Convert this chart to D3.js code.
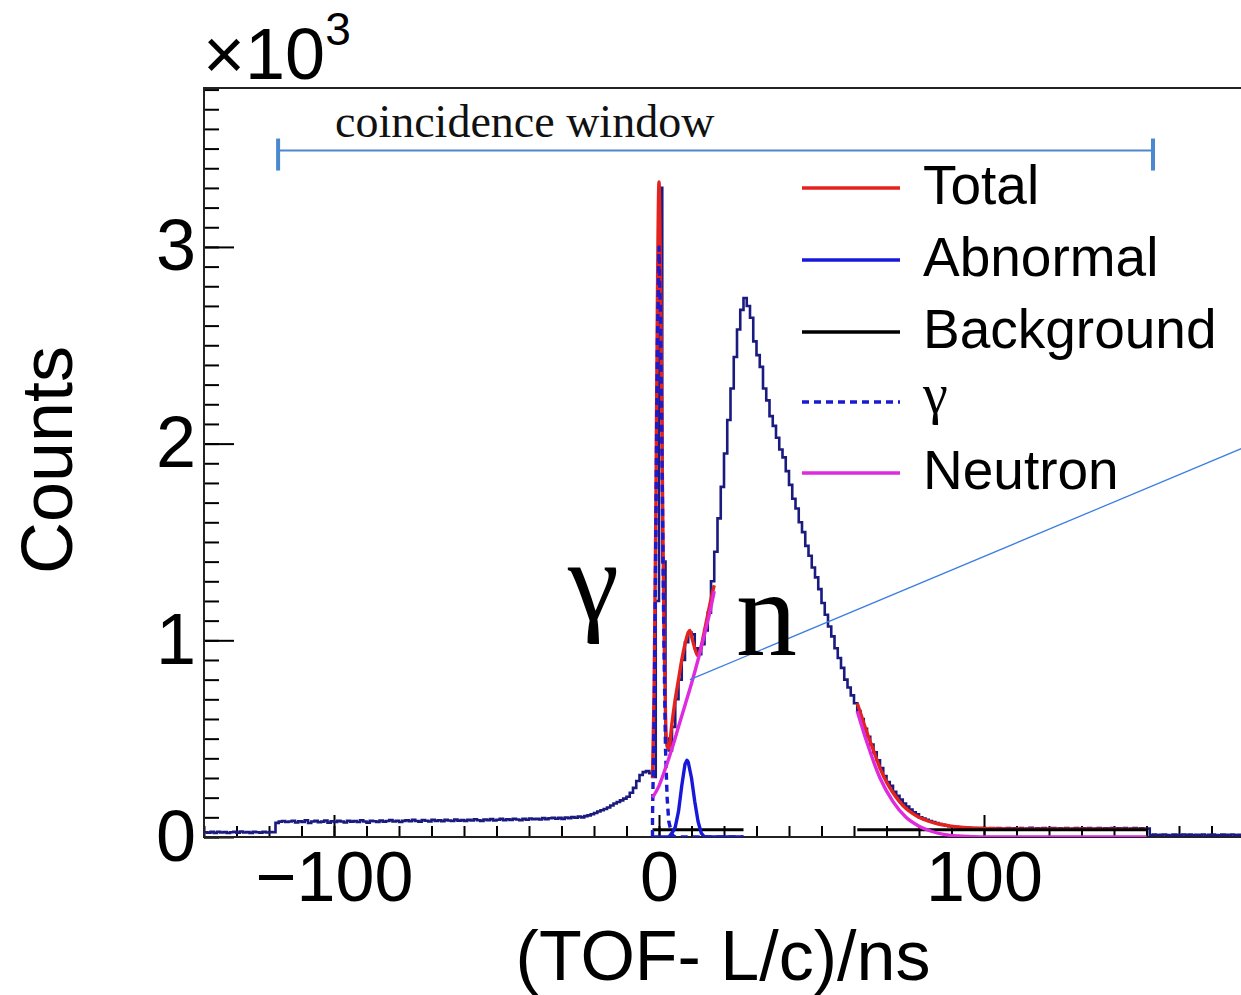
<!DOCTYPE html>
<html>
<head>
<meta charset="utf-8">
<script src="https://cdn.jsdelivr.net/npm/d3@7"></script>
<style>
  html, body { margin: 0; padding: 0; background: #ffffff; }
  svg { display: block; }
</style>
</head>
<body>
<svg id="chart" width="1241" height="995"></svg>
<script>
// ---------------- DATA (units of 10^3 counts) ----------------
const binStart = -140;   // ns, left edge of first bin
const binWidth = 1;      // ns
const histCounts = [
  // -140 .. -119
  0.024,0.022,0.026,0.021,0.027,0.023,0.025,0.020,0.024,0.026,0.022,0.028,0.023,0.025,0.021,0.026,0.024,0.022,0.027,0.023,0.025,0.024,
  // -118 .. -99
  0.072,0.078,0.081,0.076,0.079,0.083,0.074,0.080,0.077,0.085,0.071,0.079,0.082,0.075,0.078,0.084,0.073,0.080,0.076,0.082,
  // -98 .. -79
  0.079,0.074,0.083,0.078,0.081,0.076,0.085,0.079,0.073,0.082,0.080,0.077,0.084,0.078,0.081,0.086,0.079,0.083,0.076,0.082,
  // -78 .. -59
  0.085,0.080,0.087,0.081,0.078,0.086,0.083,0.079,0.088,0.082,0.085,0.080,0.087,0.084,0.081,0.089,0.083,0.086,0.082,0.088,
  // -58 .. -39
  0.084,0.090,0.085,0.082,0.089,0.086,0.091,0.084,0.088,0.092,0.086,0.090,0.087,0.093,0.089,0.085,0.092,0.088,0.094,0.090,
  // -38 .. -19
  0.093,0.089,0.096,0.091,0.095,0.098,0.093,0.097,0.092,0.099,0.096,0.101,0.098,0.104,0.100,0.106,0.110,0.116,0.122,0.130,
  // -18 .. -1
  0.136,0.142,0.150,0.160,0.170,0.178,0.186,0.195,0.205,0.225,0.250,0.285,0.315,0.330,0.335,0.325,0.305,1.20,
  // 0 .. 19
  3.30,1.40,0.50,0.44,0.56,0.70,0.80,0.90,0.99,1.04,1.03,0.96,0.93,0.98,1.05,1.14,1.30,1.45,1.62,1.78,
  // 20 .. 39
  1.95,2.12,2.28,2.44,2.58,2.68,2.74,2.70,2.64,2.52,2.45,2.39,2.28,2.22,2.14,2.09,2.03,1.97,1.93,1.86,
  // 40 .. 59
  1.79,1.72,1.67,1.60,1.55,1.48,1.43,1.37,1.32,1.26,1.19,1.13,1.07,1.02,0.96,0.91,0.86,0.80,0.76,0.72,
  // 60 .. 79
  0.68,0.64,0.60,0.55,0.51,0.47,0.43,0.39,0.35,0.31,0.28,0.26,0.23,0.21,0.19,0.17,0.155,0.14,0.125,0.115,
  // 80 .. 99
  0.100,0.094,0.088,0.081,0.076,0.071,0.066,0.062,0.058,0.055,0.052,0.050,0.048,0.049,0.046,0.047,0.044,0.046,0.043,0.045,
  // 100 .. 119
  0.044,0.042,0.046,0.041,0.045,0.043,0.040,0.046,0.042,0.044,0.039,0.045,0.041,0.043,0.047,0.040,0.044,0.042,0.045,0.041,
  // 120 .. 139
  0.043,0.046,0.040,0.044,0.042,0.045,0.039,0.043,0.046,0.041,0.044,0.042,0.045,0.040,0.043,0.046,0.041,0.044,0.042,0.045,
  // 140 .. 150
  0.041,0.044,0.042,0.046,0.040,0.043,0.045,0.041,0.044,0.042,0.043,
  // 151 .. 179
  0.010,0.012,0.009,0.011,0.013,0.010,0.008,0.012,0.011,0.009,0.013,0.010,0.012,0.009,0.011,0.010,0.013,0.008,0.011,0.012,0.010,0.009,0.012,0.011,0.010,0.013,0.009,0.011,0.010
];

// Fit components, window 1 (gamma region)
const totalX1   = [-2, -1.5, -1, -0.5, 0, 0.5, 1, 1.5, 2, 2.5, 3, 4, 5, 6, 7, 8, 9, 9.5, 10, 11, 12, 13, 14, 15, 16, 17];
const totalY1   = [0.30, 0.75, 1.60, 2.70, 3.33, 2.80, 1.90, 1.10, 0.62, 0.46, 0.45, 0.58, 0.70, 0.80, 0.90, 0.98, 1.04, 1.05, 1.02, 0.96, 0.92, 0.97, 1.05, 1.13, 1.21, 1.28];
const neutronX1 = [-2, 0, 2, 4, 6, 8, 10, 12, 14, 16, 17];
const neutronY1 = [0.20, 0.26, 0.35, 0.45, 0.56, 0.67, 0.78, 0.90, 1.03, 1.17, 1.25];
const gammaX    = [-2, -2, -1.5, -1, -0.5, 0, 0.5, 1, 1.5, 2, 2.5, 3, 4, 5, 26];
const gammaY    = [0.00, 0.10, 0.60, 1.50, 2.50, 3.00, 2.60, 1.80, 1.00, 0.45, 0.20, 0.08, 0.01, 0.00, 0.00];
const abnormalX = [-2, 3, 4, 5, 6, 7, 8, 8.6, 9, 10, 11, 12, 13, 14, 26];
const abnormalY = [0.00, 0.00, 0.02, 0.05, 0.13, 0.26, 0.37, 0.39, 0.38, 0.30, 0.18, 0.08, 0.02, 0.00, 0.00];
const bgX1      = [-2, 26];
const bgY1      = [0.037, 0.037];

// Fit components, window 2 (neutron tail)
const totalX2   = [61, 62, 64, 66, 68, 70, 72, 74, 76, 78, 80, 83, 86, 90, 95, 100, 110, 150];
const totalY2   = [0.68, 0.63, 0.53, 0.44, 0.35, 0.28, 0.225, 0.18, 0.145, 0.12, 0.10, 0.08, 0.066, 0.055, 0.047, 0.043, 0.040, 0.039];
const neutronX2 = [61, 64, 68, 72, 76, 80, 84, 88, 92, 96, 100, 150];
const neutronY2 = [0.64, 0.48, 0.30, 0.18, 0.10, 0.055, 0.028, 0.012, 0.005, 0.002, 0.0, 0.0];
const bgX2      = [61, 150.5];
const bgY2      = [0.037, 0.037];

// Coincidence window and annotation line
const windowRange = [-117.2, 152];
const windowLevel = 3.49;
const pointerX = [9.5, 180];
const pointerY = [0.80, 1.98];

// Axis ticks
const xMajorTicks = [-100, 0, 100];
const xMinorTicks = d3.range(-140, 181, 10);
const yMajorTicks = [0, 1, 2, 3];
const yMinorTicks = d3.range(0, 3.81, 0.1);

// Legend
const legendLabels = ["Total", "Abnormal", "Background", "γ", "Neutron"];
const legendColors = ["#e4231f", "#1818d8", "#000000", "#1a1ad0", "#dd2bdd"];
const legendDash   = [null, null, null, "7,5", null];

// ---------------- DRAWING ----------------
const svg = d3.select("#chart");
const L = 204, T = 88, B = 837, R = 1244;
const x = d3.scaleLinear().domain([-140, 180]).range([L, R]);
const y = d3.scaleLinear().domain([0, 3.808]).range([B, T]);

svg.append("defs").append("clipPath").attr("id", "clip")
  .append("rect").attr("x", L).attr("y", T).attr("width", R - L).attr("height", B - T);

const sans = "'Liberation Sans', Arial, sans-serif";
const serif = "'Liberation Serif', 'Times New Roman', serif";

// minor ticks
svg.append("g").attr("transform", `translate(0,${B})`)
  .call(d3.axisBottom(x).tickValues(xMinorTicks).tickSize(-11).tickFormat(""))
  .call(g => g.select(".domain").remove())
  .call(g => g.selectAll("line").attr("stroke", "#000").attr("stroke-width", 2));
svg.append("g").attr("transform", `translate(${L},0)`)
  .call(d3.axisLeft(y).tickValues(yMinorTicks).tickSize(-15).tickFormat(""))
  .call(g => g.select(".domain").remove())
  .call(g => g.selectAll("line").attr("stroke", "#000").attr("stroke-width", 2));

// major ticks with labels
svg.append("g").attr("transform", `translate(0,${B})`)
  .call(d3.axisBottom(x).tickValues(xMajorTicks).tickSize(-22).tickPadding(14))
  .call(g => g.select(".domain").remove())
  .call(g => g.selectAll("line").attr("stroke", "#000").attr("stroke-width", 2))
  .call(g => g.selectAll("text").attr("font-family", sans).attr("font-size", 70).attr("fill", "#000"));
svg.append("g").attr("transform", `translate(${L},0)`)
  .call(d3.axisLeft(y).tickValues(yMajorTicks).tickSize(-30).tickPadding(8).tickFormat(d3.format("d")))
  .call(g => g.select(".domain").remove())
  .call(g => g.selectAll("line").attr("stroke", "#000").attr("stroke-width", 2))
  .call(g => g.selectAll("text").attr("font-family", sans).attr("font-size", 72).attr("fill", "#000"));

// frame
svg.append("rect").attr("x", L).attr("y", T).attr("width", R - L).attr("height", B - T)
  .attr("fill", "none").attr("stroke", "#222").attr("stroke-width", 2);

// histogram (step)
const stepPts = [];
histCounts.forEach((v, i) => {
  const x0 = binStart + i * binWidth;
  stepPts.push([x0, v]);
  stepPts.push([x0 + binWidth, v]);
});
const plot = svg.append("g").attr("clip-path", "url(#clip)");
const line = d3.line().x(d => x(d[0])).y(d => y(d[1]));
const smooth = d3.line().x(d => x(d[0])).y(d => y(d[1])).curve(d3.curveMonotoneX);
plot.append("path").datum(stepPts).attr("d", line)
  .attr("fill", "none").attr("stroke", "#1a1a80").attr("stroke-width", 2.6);

const zip = (a, b) => a.map((v, i) => [v, b[i]]);
function curve(xs, ys, color, width, dash, gen) {
  plot.append("path").datum(zip(xs, ys)).attr("d", gen || smooth)
    .attr("fill", "none").attr("stroke", color).attr("stroke-width", width)
    .attr("stroke-dasharray", dash || null).attr("stroke-linejoin", "round");
}
curve(totalX1, totalY1, legendColors[0], 3.4);
curve(totalX2, totalY2, legendColors[0], 3.4);
curve(bgX1, bgY1, legendColors[2], 3, null, line);
curve(bgX2, bgY2, legendColors[2], 3, null, line);
curve(abnormalX, abnormalY, legendColors[1], 3.4, null, line);
curve(gammaX, gammaY, legendColors[3], 3.4, "7,5", line);
curve(neutronX1, neutronY1, legendColors[4], 3.4);
curve(neutronX2, neutronY2, legendColors[4], 3.4);

// coincidence window
const wcol = "#4a88cf";
svg.append("line").attr("x1", x(windowRange[0])).attr("x2", x(windowRange[1]))
  .attr("y1", y(windowLevel)).attr("y2", y(windowLevel)).attr("stroke", wcol).attr("stroke-width", 2);
windowRange.forEach(v => {
  svg.append("line").attr("x1", x(v)).attr("x2", x(v))
    .attr("y1", y(windowLevel) - 12).attr("y2", y(windowLevel) + 20)
    .attr("stroke", wcol).attr("stroke-width", 4);
});
svg.append("text").attr("x", 335).attr("y", 137).attr("font-family", serif)
  .attr("font-size", 46).attr("fill", "#111").text("coincidence window");

// pointer line
svg.append("line").attr("x1", x(pointerX[0])).attr("y1", y(pointerY[0]))
  .attr("x2", x(pointerX[1])).attr("y2", y(pointerY[1]))
  .attr("stroke", "#3d7fe0").attr("stroke-width", 1.3);

// big labels
svg.append("text").attr("x", 568).attr("y", 620).attr("font-family", serif)
  .attr("font-size", 115).attr("fill", "#000").text("γ");
svg.append("text").attr("x", 736).attr("y", 655).attr("font-family", serif)
  .attr("font-size", 122).attr("fill", "#000").text("n");

// legend
const rowY = [188, 260, 332, 402, 473];
legendLabels.forEach((lab, i) => {
  svg.append("line").attr("x1", 802).attr("x2", 900).attr("y1", rowY[i]).attr("y2", rowY[i])
    .attr("stroke", legendColors[i]).attr("stroke-width", 3.5)
    .attr("stroke-dasharray", legendDash[i]);
  const isGreek = lab === "γ";
  svg.append("text").attr("x", 923).attr("y", rowY[i] + (isGreek ? 11 : 16))
    .attr("font-family", isGreek ? serif : sans).attr("font-size", isGreek ? 56 : 55)
    .attr("fill", "#000").text(lab);
});

// axis titles
svg.append("text").attr("transform", "translate(72,460) rotate(-90)")
  .attr("text-anchor", "middle").attr("font-family", sans).attr("font-size", 72)
  .attr("fill", "#000").text("Counts");
svg.append("text").attr("x", 723).attr("y", 980).attr("text-anchor", "middle")
  .attr("font-family", sans).attr("font-size", 70).attr("fill", "#000").text("(TOF- L/c)/ns");

// exponent
const ex = svg.append("text").attr("x", 203).attr("y", 79).attr("font-family", sans)
  .attr("font-size", 72).attr("fill", "#000");
ex.append("tspan").text("×10");
ex.append("tspan").attr("font-size", 46).attr("dy", -34).text("3");
</script>
</body>
</html>
